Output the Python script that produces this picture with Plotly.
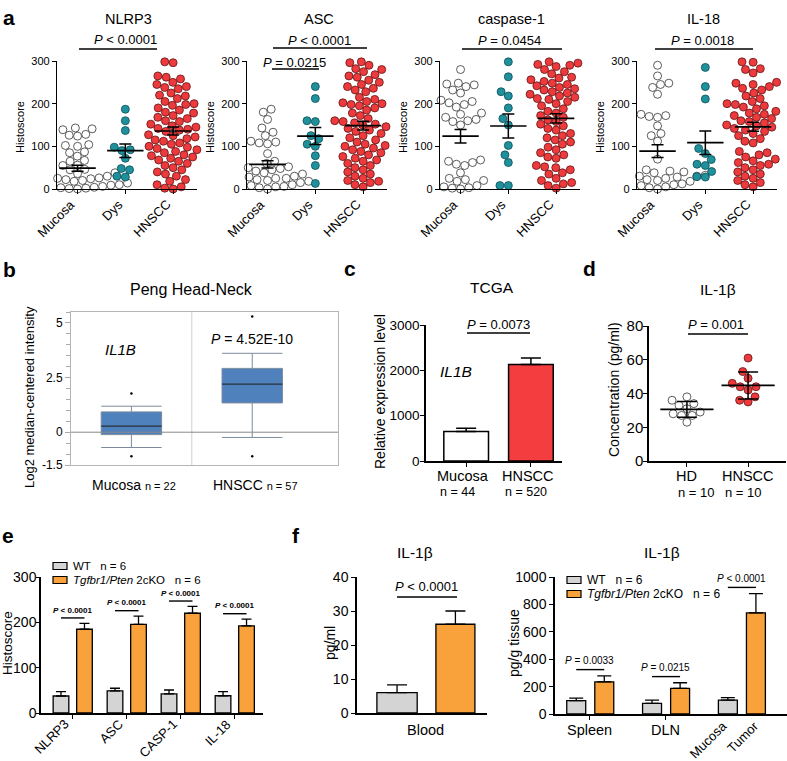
import numpy as np
import plotly.graph_objects as go

W, H = 787, 761
FONT = "Liberation Sans, Arial, sans-serif"

# ---------------- data ----------------
groups_a = ["Mucosa", "Dys", "HNSCC"]
titles_a = ["NLRP3", "ASC", "caspase-1", "IL-18"]

nlrp3_mucosa = [143, 141, 139, 128, 126, 124, 104, 102, 100, 87, 85, 77, 67, 65, 56, 55, 46, 45, 38, 36, 34,
                30, 28, 26, 25, 24, 22, 20, 18, 16, 15, 14, 12, 10, 9, 8, 6, 5, 4, 3, 2, 1, 0]
nlrp3_dys = [187, 160, 137, 98, 92, 90, 72, 48, 45, 30, 28]
nlrp3_hnscc = [298, 296, 265, 262, 258, 250, 245, 240, 238, 235, 225, 220, 218, 212, 205, 200, 198, 196, 190, 185,
               180, 178, 172, 168, 165, 160, 158, 152, 148, 145, 142, 140, 138, 135, 130, 127, 125, 122, 118, 115,
               112, 108, 105, 100, 98, 95, 92, 88, 85, 80, 78, 75, 72, 68, 65, 60, 55, 50, 45, 40, 35, 30, 22, 18,
               10, 5, 2, 0]

asc_mucosa = [187, 180, 163, 143, 133, 125, 112, 110, 108, 106, 83, 65, 60, 56, 52, 50, 48, 45, 42, 40, 38, 35,
              32, 30, 28, 25, 25, 22, 20, 18, 15, 15, 12, 10, 8, 6, 5, 3, 0]
asc_dys = [240, 212, 160, 158, 125, 118, 105, 100, 78, 55, 13]
asc_hnscc = [298, 296, 290, 282, 280, 275, 268, 265, 262, 255, 250, 245, 240, 236, 232, 228, 215, 210, 208, 205,
             202, 200, 198, 195, 190, 185, 178, 172, 165, 160, 158, 155, 152, 150, 146, 142, 138, 135, 130, 125,
             120, 115, 110, 105, 102, 100, 96, 92, 88, 85, 80, 76, 72, 68, 65, 60, 55, 50, 45, 40, 35, 30, 25, 20,
             18, 15, 10, 5]

casp_mucosa = [280, 248, 246, 244, 240, 232, 225, 208, 205, 202, 198, 192, 178, 175, 168, 163, 160, 158, 150,
               68, 65, 62, 58, 55, 38, 25, 22, 20, 18, 12, 8, 5, 3, 2, 0]
casp_dys = [298, 263, 228, 218, 190, 165, 150, 102, 80, 62, 8, 8]
casp_hnscc = [298, 295, 292, 290, 287, 280, 275, 270, 265, 262, 260, 256, 252, 250, 248, 245, 242, 238, 235, 232,
              228, 225, 222, 218, 215, 212, 210, 205, 200, 195, 188, 182, 178, 172, 168, 162, 158, 152, 148, 142,
              138, 130, 125, 120, 115, 110, 105, 98, 92, 85, 80, 75, 72, 55, 52, 50, 45, 38, 35, 25, 20, 15, 12,
              8, 2]

il18_mucosa = [290, 265, 248, 245, 238, 222, 175, 172, 170, 168, 148, 130, 125, 112, 70, 45, 42, 40, 38, 35, 32,
               30, 30, 28, 25, 25, 22, 20, 18, 15, 15, 12, 10, 8, 5, 3, 0]
il18_dys = [285, 240, 211, 95, 83, 69, 58, 55, 41, 29, 28]
il18_hnscc = [298, 297, 282, 280, 272, 250, 248, 245, 240, 236, 232, 225, 218, 212, 205, 200, 198, 195, 192, 188,
              182, 178, 175, 172, 168, 165, 160, 158, 155, 152, 150, 148, 145, 142, 138, 135, 130, 125, 118, 112,
              108, 88, 85, 80, 75, 70, 66, 62, 58, 55, 50, 45, 40, 35, 30, 25, 20, 15, 10, 5]

data_a = [[nlrp3_mucosa, nlrp3_dys, nlrp3_hnscc],
          [asc_mucosa, asc_dys, asc_hnscc],
          [casp_mucosa, casp_dys, casp_hnscc],
          [il18_mucosa, il18_dys, il18_hnscc]]

# panel b (Oncomine box plot)
b_groups = ["Mucosa", "HNSCC"]
b_n = ["n = 22", "n = 57"]
b_lowerfence = [-0.70, -0.24]
b_q1 = [-0.11, 1.34]
b_median = [0.28, 2.2]
b_q3 = [0.93, 2.92]
b_upperfence = [1.19, 3.61]
b_outliers = [[1.77, -1.1], [5.29, -1.1]]

# panel c (TCGA)
c_groups = ["Mucosa", "HNSCC"]
c_n = ["n = 44", "n = 520"]
c_values = [650, 2127]
c_err = [73, 145]

# panel d (serum IL-1b)
d_groups = ["HD", "HNSCC"]
d_n = ["n = 10", "n = 10"]
d_hd = [38, 36, 34, 33, 31, 29, 28, 27, 27, 23]
d_hnscc = [61, 53, 49, 46, 44, 44, 42, 38, 36, 35]

# panel e (mouse histoscore)
e_cats = ["NLRP3", "ASC", "CASP-1", "IL-18"]
e_wt = [37.5, 48.6, 42, 38]
e_wt_err = [9.5, 6, 8.7, 9]
e_ko = [184.7, 195.7, 220, 192]
e_ko_err = [13, 18, 15, 15]

# panel f
f1_cats = ["Blood"]
f1_wt = [6.0]
f1_wt_err = [2.3]
f1_ko = [26.1]
f1_ko_err = [3.9]

f2_cats = ["Spleen", "DLN"]
f2_extra = ["Mucosa", "Tumor"]
f2_wt = [97, 78, 102]
f2_wt_err = [19, 24, 17]
f2_ko = [235, 187, 738]
f2_ko_err = [44, 41, 141]
f2_p = ["<i>P</i> = 0.0033", "<i>P</i> = 0.0215", "<i>P</i> &lt; 0.0001"]

legend_labels = ["WT   n = 6", "<i>Tgfbr1/Pten</i> 2cKO   n = 6"]

# ---------------- helpers ----------------
def xd(a, b):
    return [max(a / W, 0.0), min(b / W, 1.0)]


def yd(top, bot):
    return [max(1 - bot / H, 0.0), min(1 - top / H, 1.0)]


def PX(x):
    return x / W


def PY(y):
    return 1 - y / H


def swarm(vals, xs, ys, d):
    vals = np.asarray(vals, float)
    order = np.argsort(vals, kind="stable")
    placed = []
    off = np.zeros(len(vals))
    for i in order:
        y = vals[i] * ys
        cands = [0.0]
        forb = []
        for (qx, qy) in placed:
            dy = abs(qy - y)
            if dy < d:
                dx = np.sqrt(d * d - dy * dy)
                forb.append((qx - dx, qx + dx))
                cands += [qx - dx, qx + dx]
        cands.sort(key=lambda c: (abs(c), c))
        chosen = 0.0
        for c in cands:
            if all(not (lo + 1e-6 < c < hi - 1e-6) for lo, hi in forb):
                chosen = c
                break
        placed.append((chosen, y))
        off[i] = chosen / xs
    return off


def ax_names(n):
    return ("x" if n == 1 else f"x{n}", "y" if n == 1 else f"y{n}",
            "xaxis" if n == 1 else f"xaxis{n}", "yaxis" if n == 1 else f"yaxis{n}")


annotations = []
shapes = []


def ann(text, x, y, size, **kw):
    d = dict(text=text, x=PX(x), y=PY(y), xref="paper", yref="paper", showarrow=False,
             font=dict(size=size, color="black", family=FONT), xanchor="center", yanchor="middle")
    d.update(kw)
    annotations.append(d)


def ytitle(text, x, y, size):
    ann(text, x, y, size, textangle=-90)


def xlab(text, xref, x, y_px, size, dx=0, xanchor="center"):
    annotations.append(dict(text=text, xref=xref, x=x, yref="paper", y=PY(y_px), xshift=dx,
                            xanchor=xanchor, yanchor="middle", showarrow=False,
                            font=dict(size=size, color="black", family=FONT)))


def rotlab(text, xref, x, axis_px, size, dx=3, dy=5):
    # rotated label whose upper-right end sits next to the tick
    annotations.append(dict(text=text, xref=xref, x=x, yref="paper", y=PY(axis_px), xshift=dx, yshift=-dy,
                            xanchor="right", yanchor="top", textangle=-45, showarrow=False,
                            font=dict(size=size, color="black", family=FONT)))


def pline(x0, x1, y, w=1.5):
    shapes.append(dict(type="line", xref="paper", yref="paper", x0=PX(x0), x1=PX(x1), y0=PY(y), y1=PY(y),
                       line=dict(color="black", width=w)))


def legend_box(x0, x1, ycen, h, color, label, size):
    shapes.append(dict(type="rect", xref="paper", yref="paper", x0=PX(x0), x1=PX(x1),
                       y0=PY(ycen + h / 2), y1=PY(ycen - h / 2), fillcolor=color,
                       line=dict(color="black", width=1.2)))
    ann(label, x1 + 4, ycen, size, xanchor="left")


base_axis = dict(showline=True, linecolor="black", linewidth=1.3, ticks="outside", ticklen=4, tickwidth=1.2,
                 tickcolor="black", showgrid=False, zeroline=False, tickfont=dict(size=11, color="black"))

fig = go.Figure()
layout = {}

# ---------------- panel a ----------------
a_left = [57, 247, 440, 637]
a_top, a_bot = 61, 189
a_xr = [-0.43, 2.5]
a_width = 140
a_xs = a_width / (a_xr[1] - a_xr[0])
a_ys = (a_bot - a_top) / 300
fills = ["white", "#1f919d", "#ee3a3c"]
edges = ["#333333", "#0e4c55", "#5e1515"]

for k in range(4):
    n = k + 1
    xa, ya, xk, yk = ax_names(n)
    for gi, vals in enumerate(data_a[k]):
        off = swarm(vals, a_xs, a_ys, 8.4)
        fig.add_trace(go.Scatter(x=gi + off, y=vals, mode="markers", xaxis=xa, yaxis=ya, showlegend=False,
                                 cliponaxis=False, hoverinfo="skip",
                                 marker=dict(size=8, color=fills[gi], line=dict(color=edges[gi], width=0.8))))
        arr = np.asarray(vals, float)
        m = arr.mean()
        sem = arr.std(ddof=1) / np.sqrt(len(arr))
        fig.add_trace(go.Scatter(x=[gi], y=[m], mode="markers", xaxis=xa, yaxis=ya, showlegend=False,
                                 cliponaxis=False,
                                 marker=dict(symbol="line-ew-open", size=26, color="black",
                                             line=dict(color="black", width=1.7)),
                                 error_y=dict(type="data", array=[sem], color="black", thickness=1.5, width=6)))
        rotlab(groups_a[gi], xa, gi, a_bot, 13, dx=3, dy=5)
    layout[xk] = dict(base_axis, domain=xd(a_left[k], a_left[k] + a_width), anchor=ya, range=a_xr,
                      tickmode="array", tickvals=list(range(3)), showticklabels=False)
    layout[yk] = dict(base_axis, domain=yd(a_top, a_bot), anchor=xa, range=[0, 300],
                      tickvals=[0, 100, 200, 300])
    ytitle("Histoscore", a_left[k] - 37, 127, 11)

a_title_x = [128, 319, 511, 703]
for k in range(4):
    ann(titles_a[k], a_title_x[k], 19, 14.5)
ann("<i>P</i> &lt; 0.0001", 125, 40, 13)
pline(79, 157, 49)
ann("<i>P</i> &lt; 0.0001", 319, 41, 13)
pline(273, 367, 48)
ann("<i>P</i> = 0.0215", 294, 62, 13)
pline(272, 319, 69)
ann("<i>P</i> = 0.0454", 509, 41, 13)
pline(462, 562, 49)
ann("<i>P</i> = 0.0018", 702, 41, 13)
pline(655, 753, 49)

# ---------------- panel b ----------------
n = 5
xa, ya, xk, yk = ax_names(n)
for i in range(2):
    fig.add_trace(go.Box(x=[i], q1=[b_q1[i]], median=[b_median[i]], q3=[b_q3[i]],
                         lowerfence=[b_lowerfence[i]], upperfence=[b_upperfence[i]],
                         width=0.5, whiskerwidth=1, boxpoints=False, fillcolor="#4f81bd",
                         line=dict(color="#7d8a9c", width=1), xaxis=xa, yaxis=ya, showlegend=False,
                         hoverinfo="skip"))
    fig.add_trace(go.Scatter(x=[i - 0.25, i + 0.25], y=[b_median[i]] * 2, mode="lines",
                             line=dict(color="#1d2c40", width=1.2), xaxis=xa, yaxis=ya, showlegend=False))
    fig.add_trace(go.Scatter(x=[i] * len(b_outliers[i]), y=b_outliers[i], mode="markers",
                             marker=dict(size=2.5, color="black"), xaxis=xa, yaxis=ya, showlegend=False))
    xlab(f"{b_groups[i]} <span style='font-size:11px'>{b_n[i]}</span>", xa, i, 485, 14, dx=3)
layout[xk] = dict(domain=xd(71, 338), anchor=ya, range=[-0.5, 1.71], showline=True, mirror=True,
                  linecolor="#b5b5b5", linewidth=1, showgrid=False, zeroline=False, ticks="",
                  showticklabels=False)
layout[yk] = dict(domain=yd(312, 465), anchor=xa, range=[-1.5, 5.5], showline=True, mirror=True,
                  linecolor="#b5b5b5", linewidth=1, showgrid=False, zeroline=False, ticks="outside",
                  ticklen=5, tickcolor="#aaaaaa", tickmode="array", tickvals=[-1.5, 0, 2.5, 5],
                  ticktext=["-1.5", "0", "2.5", "5"], tickfont=dict(size=12, color="black"),
                  minor=dict(tickmode="linear", tick0=0, dtick=0.5, ticks="outside", ticklen=4,
                             tickcolor="#aaaaaa", showgrid=False))
ytitle("Log2 median-centered intensity", 29, 397, 13)
shapes.append(dict(type="line", xref=xa, yref=f"{ya} domain", x0=0.5, x1=0.5, y0=0, y1=1,
                   line=dict(color="#cfcfcf", width=1)))
shapes.append(dict(type="line", xref=f"{xa} domain", yref=ya, x0=0, x1=1, y0=0, y1=0,
                   line=dict(color="#8a8a8a", width=1)))
ann("Peng Head-Neck", 191, 290, 16)
ann("<i>IL1B</i>", 120, 350, 15)
ann("<i>P</i> = 4.52E-10", 252, 339, 14)

# ---------------- panel c ----------------
n = 6
xa, ya, xk, yk = ax_names(n)
cx = list(range(len(c_groups)))
fig.add_trace(go.Bar(x=cx, y=c_values, width=0.69,
                     marker=dict(color=["white", "#f43d3f"], line=dict(color="black", width=1.5)),
                     error_y=dict(type="data", array=c_err, arrayminus=[0] * len(c_err), symmetric=False,
                                  color="black", thickness=1.5, width=10),
                     xaxis=xa, yaxis=ya, showlegend=False))
for i in cx:
    xlab(c_groups[i], xa, i, 476, 14.5, dx=-3)
    xlab(c_n[i], xa, i, 492, 12.5, dx=-28, xanchor="left")
layout[xk] = dict(base_axis, domain=xd(426, 562), anchor=ya, range=[-0.62, 1.48], tickmode="array",
                  tickvals=cx, linewidth=1.5, showticklabels=False)
layout[yk] = dict(base_axis, domain=yd(325, 461), anchor=xa, range=[0, 3000], linewidth=1.5,
                  tickvals=[0, 1000, 2000, 3000], tickfont=dict(size=13.5, color="black"),
                  ticklabelstandoff=-2)
ytitle("Relative expression level", 380, 392, 14)
ann("TCGA", 492, 287, 15.5)
ann("<i>P</i> = 0.0073", 498, 324, 13)
pline(467, 530, 333)
ann("<i>IL1B</i>", 456, 371, 15.5)

# ---------------- panel d ----------------
n = 7
xa, ya, xk, yk = ax_names(n)
d_xr = [-0.62, 1.62]
d_xs = (786 - 649) / (d_xr[1] - d_xr[0])
d_ys = (461 - 326) / 80
for gi, (vals, fc, lc) in enumerate([(d_hd, "white", "#333333"), (d_hnscc, "#ee3a3c", "#5e1515")]):
    off = swarm(vals, d_xs, d_ys, 8.6)
    fig.add_trace(go.Scatter(x=gi + off, y=vals, mode="markers", xaxis=xa, yaxis=ya, showlegend=False,
                             cliponaxis=False, marker=dict(size=8, color=fc, line=dict(color=lc, width=0.8))))
    arr = np.asarray(vals, float)
    fig.add_trace(go.Scatter(x=[gi], y=[arr.mean()], mode="markers", xaxis=xa, yaxis=ya, showlegend=False,
                             cliponaxis=False,
                             marker=dict(symbol="line-ew-open", size=38, color="black",
                                         line=dict(color="black", width=1.7)),
                             error_y=dict(type="data", array=[arr.std(ddof=1)], color="black", thickness=1.5,
                                          width=10)))
d_nshift = [-11, -25]
for i in range(len(d_groups)):
    xlab(d_groups[i], xa, i, 476, 14.5)
    xlab(d_n[i], xa, i, 492, 13, dx=d_nshift[i], xanchor="left")
layout[xk] = dict(base_axis, domain=xd(649, 786), anchor=ya, range=d_xr, tickmode="array", tickvals=[0, 1],
                  linewidth=1.5, showticklabels=False)
layout[yk] = dict(base_axis, domain=yd(326, 461), anchor=xa, range=[0, 80], linewidth=1.5,
                  tickvals=[0, 20, 40, 60, 80], tickfont=dict(size=15, color="black"),
                  ticklabelstandoff=-3)
ytitle("Concentration (pg/ml)", 614, 390, 14)
ann("IL-1β", 718, 289, 15.5)
ann("<i>P</i> = 0.001", 716, 325, 13)
pline(688, 748, 334)

# ---------------- panel e ----------------
n = 8
xa, ya, xk, yk = ax_names(n)
WT_COL, KO_COL = "#d4d4d4", "#f9a13b"
ex = list(range(len(e_cats)))
fig.add_trace(go.Bar(x=ex, y=e_wt, width=0.29, offset=-0.365, showlegend=False,
                     marker=dict(color=WT_COL, line=dict(color="black", width=1.3)),
                     error_y=dict(type="data", array=e_wt_err, arrayminus=[0] * 4, symmetric=False,
                                  color="black", thickness=1.3, width=5),
                     xaxis=xa, yaxis=ya))
fig.add_trace(go.Bar(x=ex, y=e_ko, width=0.29, offset=0.07, showlegend=False,
                     marker=dict(color=KO_COL, line=dict(color="black", width=1.3)),
                     error_y=dict(type="data", array=e_ko_err, arrayminus=[0] * 4, symmetric=False,
                                  color="black", thickness=1.3, width=5),
                     xaxis=xa, yaxis=ya))
for i in ex:
    top = e_ko[i] + e_ko_err[i] + 12
    shapes.append(dict(type="line", xref=xa, yref=ya, x0=i - 0.22, x1=i + 0.215, y0=top, y1=top,
                       line=dict(color="black", width=1.4)))
    annotations.append(dict(text="<b><i>P</i> &lt; 0.0001</b>", x=i, y=top + 3, xref=xa, yref=ya,
                            showarrow=False, yanchor="bottom", xanchor="center",
                            font=dict(size=8, color="black", family=FONT)))
    rotlab(e_cats[i], xa, i, 713, 13, dx=2, dy=1)
layout[xk] = dict(base_axis, domain=xd(41, 263), anchor=ya, range=[-0.59, 3.52], tickmode="array",
                  tickvals=ex, linewidth=1.5, showticklabels=False)
layout[yk] = dict(base_axis, domain=yd(577, 713), anchor=xa, range=[0, 300], linewidth=1.5,
                  tickvals=[0, 100, 200, 300], tickfont=dict(size=14, color="black"), ticklen=3,
                  ticklabelstandoff=-3)
ytitle("Histoscore", 7, 643, 13.5)
legend_box(53, 67, 566, 7, WT_COL, legend_labels[0], 11.5)
legend_box(53, 67, 580, 7, KO_COL, legend_labels[1], 11.5)

# ---------------- panel f (left) ----------------
n = 9
xa, ya, xk, yk = ax_names(n)
fx = list(range(len(f1_cats)))
fig.add_trace(go.Bar(x=fx, y=f1_wt, width=0.31, offset=-0.377, showlegend=False,
                     marker=dict(color=WT_COL, line=dict(color="black", width=1.3)),
                     error_y=dict(type="data", array=f1_wt_err, arrayminus=[0], symmetric=False,
                                  color="black", thickness=1.3, width=10),
                     xaxis=xa, yaxis=ya))
fig.add_trace(go.Bar(x=fx, y=f1_ko, width=0.3, offset=0.077, showlegend=False,
                     marker=dict(color=KO_COL, line=dict(color="black", width=1.3)),
                     error_y=dict(type="data", array=f1_ko_err, arrayminus=[0], symmetric=False,
                                  color="black", thickness=1.3, width=10),
                     xaxis=xa, yaxis=ya))
for i in fx:
    xlab(f1_cats[i], xa, i, 730, 14.5)
layout[xk] = dict(base_axis, domain=xd(357, 487), anchor=ya, range=[-0.53, 0.47], tickmode="array",
                  tickvals=fx, ticks="", linewidth=1.5, showticklabels=False)
layout[yk] = dict(base_axis, domain=yd(577, 713), anchor=xa, range=[0, 40], linewidth=1.5,
                  tickvals=[0, 10, 20, 30, 40], tickfont=dict(size=14, color="black"))
ytitle("pg/ml", 330, 643, 14)
ann("IL-1β", 415, 552, 15.5)
ann("<i>P</i> &lt; 0.0001", 427, 586, 13)
pline(397, 457, 597)

# ---------------- panel f (right) ----------------
n = 10
xa, ya, xk, yk = ax_names(n)
gx = list(range(len(f2_wt)))
wt_off, ko_off, bw = -0.305, 0.065, 0.25
fig.add_trace(go.Bar(x=gx, y=f2_wt, width=bw, offset=wt_off, showlegend=False,
                     marker=dict(color=WT_COL, line=dict(color="black", width=1.3)),
                     error_y=dict(type="data", array=f2_wt_err, arrayminus=[0] * 3, symmetric=False,
                                  color="black", thickness=1.3, width=7),
                     xaxis=xa, yaxis=ya))
fig.add_trace(go.Bar(x=gx, y=f2_ko, width=bw, offset=ko_off, showlegend=False,
                     marker=dict(color=KO_COL, line=dict(color="black", width=1.3)),
                     error_y=dict(type="data", array=f2_ko_err, arrayminus=[0] * 3, symmetric=False,
                                  color="black", thickness=1.3, width=7),
                     xaxis=xa, yaxis=ya))
for i in gx:
    top = f2_ko[i] + f2_ko_err[i] + 45
    shapes.append(dict(type="line", xref=xa, yref=ya, x0=i + wt_off + bw / 2, x1=i + ko_off + bw / 2,
                       y0=top, y1=top, line=dict(color="black", width=1.4)))
    annotations.append(dict(text=f2_p[i], x=i, y=top + 12, xref=xa, yref=ya, showarrow=False,
                            yanchor="bottom", xanchor="center", font=dict(size=10, color="black", family=FONT)))
for i, lab in enumerate(f2_cats):
    xlab(lab, xa, i, 730, 14.5)
third = len(f2_cats)
rotlab(f2_extra[0], xa, third + wt_off + bw / 2, 714, 13, dx=5, dy=1)
rotlab(f2_extra[1], xa, third + ko_off + bw / 2, 714, 13, dx=9, dy=1)
layout[xk] = dict(base_axis, domain=xd(555, 788), anchor=ya, range=[-0.46, 2.6], tickmode="array",
                  tickvals=list(range(len(f2_cats))), linewidth=1.5, showticklabels=False)
layout[yk] = dict(base_axis, domain=yd(577, 714), anchor=xa, range=[0, 1000], linewidth=1.5,
                  tickvals=[0, 200, 400, 600, 800, 1000], tickfont=dict(size=14, color="black"))
ytitle("pg/g tissue", 514, 643, 14)
legend_box(567, 581, 580, 7, WT_COL, legend_labels[0], 12)
legend_box(567, 581, 594, 7, KO_COL, legend_labels[1], 12)
ann("IL-1β", 662, 552, 15.5)

# ---------------- panel letters ----------------
for lab, x, y in [("a", 9, 18), ("b", 9, 270), ("c", 350, 268), ("d", 589, 268), ("e", 8, 535), ("f", 296, 535)]:
    ann(f"<b>{lab}</b>", x, y, 21)

layout.update(dict(
    width=W, height=H, margin=dict(l=0, r=0, t=0, b=0, autoexpand=False),
    paper_bgcolor="white", plot_bgcolor="rgba(0,0,0,0)",
    font=dict(family=FONT, color="black"), barmode="overlay", showlegend=False,
    annotations=annotations, shapes=shapes,
))
fig.update_layout(layout)
fig.write_html("out.html", config={"displayModeBar": False},
               post_script="document.body.style.margin='0px';document.body.style.padding='0px';")
